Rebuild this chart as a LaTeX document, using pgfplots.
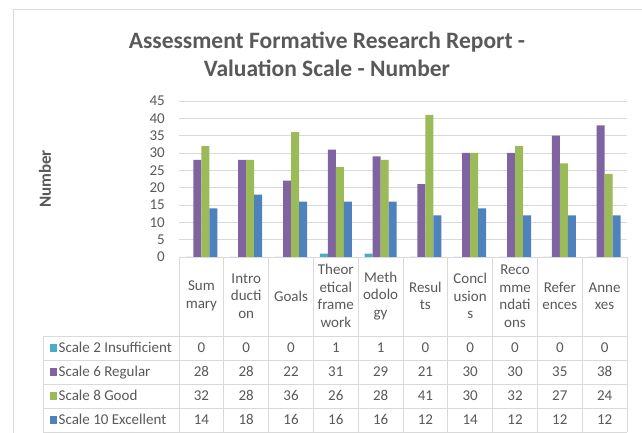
\documentclass[border=0pt]{standalone}
\usepackage{fontspec}
\setmainfont{Carlito}
\usepackage{pgfplots}
\usepackage{pgfplotstable}
\pgfplotsset{compat=1.18}
\definecolor{txt}{HTML}{595959}
\definecolor{gridc}{HTML}{D9D9D9}
\definecolor{cA}{HTML}{4BACC6}
\definecolor{cB}{HTML}{8064A2}
\definecolor{cC}{HTML}{9BBB59}
\definecolor{cD}{HTML}{4F81BD}
\pgfplotstableread{
x s2 s6 s8 s10
0 0 28 32 14
1 0 28 28 18
2 0 22 36 16
3 1 31 26 16
4 1 29 28 16
5 0 21 41 12
6 0 30 30 14
7 0 30 32 12
8 0 35 27 12
9 0 38 24 12
}\data
\begin{document}
\begin{tikzpicture}[x=1pt,y=1pt]
\useasboundingbox (0,0) rectangle (642,433);
\fill[white] (0,0) rectangle (642,433);
\draw[gridc, line width=1pt] (13,0) -- (13,423) -- (642,423);
\node[font=\fontsize{23.5}{28}\selectfont\bfseries, text=txt, align=center] at (327,379) {Assessment Formative Research Report -\\Valuation Scale - Number};
\node[rotate=90, font=\fontsize{17}{17}\selectfont\bfseries, text=txt] at (45,254) {Number};
\begin{axis}[at={(179pt,176pt)}, anchor=south west, scale only axis,
  width=448pt, height=156pt, xmin=-0.5, xmax=9.5, ymin=0, ymax=45,
  ytick={0,5,...,45}, ymajorgrids, grid style={gridc, line width=0.8pt},
  axis line style={draw=none}, major tick length=0pt,
  ybar=0pt, bar width=8pt, clip=false,
  /pgf/number format/assume math mode=true,
  xtick={0,...,9},
  xticklabels={{Sum\\mary},{Intro\\ducti\\on},{Goals},{Theor\\etical\\frame\\work},{Meth\\odolo\\gy},{Resul\\ts},{Concl\\usion\\s},{Reco\\mme\\ndati\\ons},{Refer\\ences},{Anne\\xes}},
  xticklabel style={align=center, anchor=center, yshift=-39pt, inner sep=0pt, font=\fontsize{15}{17.5}\selectfont, text=txt},
  yticklabel style={anchor=east, inner sep=0pt, xshift=-14pt, font=\fontsize{15}{15}\selectfont, text=txt},
  every axis plot/.append style={draw=none}]
\addplot[fill=cA] table[x=x, y=s2] {\data};
\addplot[fill=cB] table[x=x, y=s6] {\data};
\addplot[fill=cC] table[x=x, y=s8] {\data};
\addplot[fill=cD] table[x=x, y=s10] {\data};
\end{axis}
\foreach \k in {0,...,10} \draw[gridc, line width=0.8pt] ({179+44.8*\k},176) -- ({179+44.8*\k},1);
\draw[gridc, line width=0.8pt] (43,97) -- (43,1);
\foreach \py in {336,360,384,408,432} \draw[gridc, line width=0.8pt] (43,{433-\py}) -- (627,{433-\py});
\foreach \c/\r/\col/\name in {s2/85/cA/Scale 2 Insufficient, s6/61/cB/Scale 6 Regular, s8/37/cC/Scale 8 Good, s10/13/cD/Scale 10 Excellent} {
  \fill[\col] (49.5,{\r-3.7}) rectangle +(7.5,7.5);
  \node[anchor=base west, inner sep=0pt, font=\fontsize{15}{15}\selectfont, text=txt] at (58.5,{\r-5}) {\name};
  \foreach \i in {0,...,9} {
    \pgfplotstablegetelem{\i}{\c}\of\data
    \node[anchor=base, inner sep=0pt, font=\fontsize{15}{15}\selectfont, text=txt] at ({179+44.8*(\i+0.5)},{\r-5}) {\pgfplotsretval};
  }
}
\end{tikzpicture}
\end{document}
